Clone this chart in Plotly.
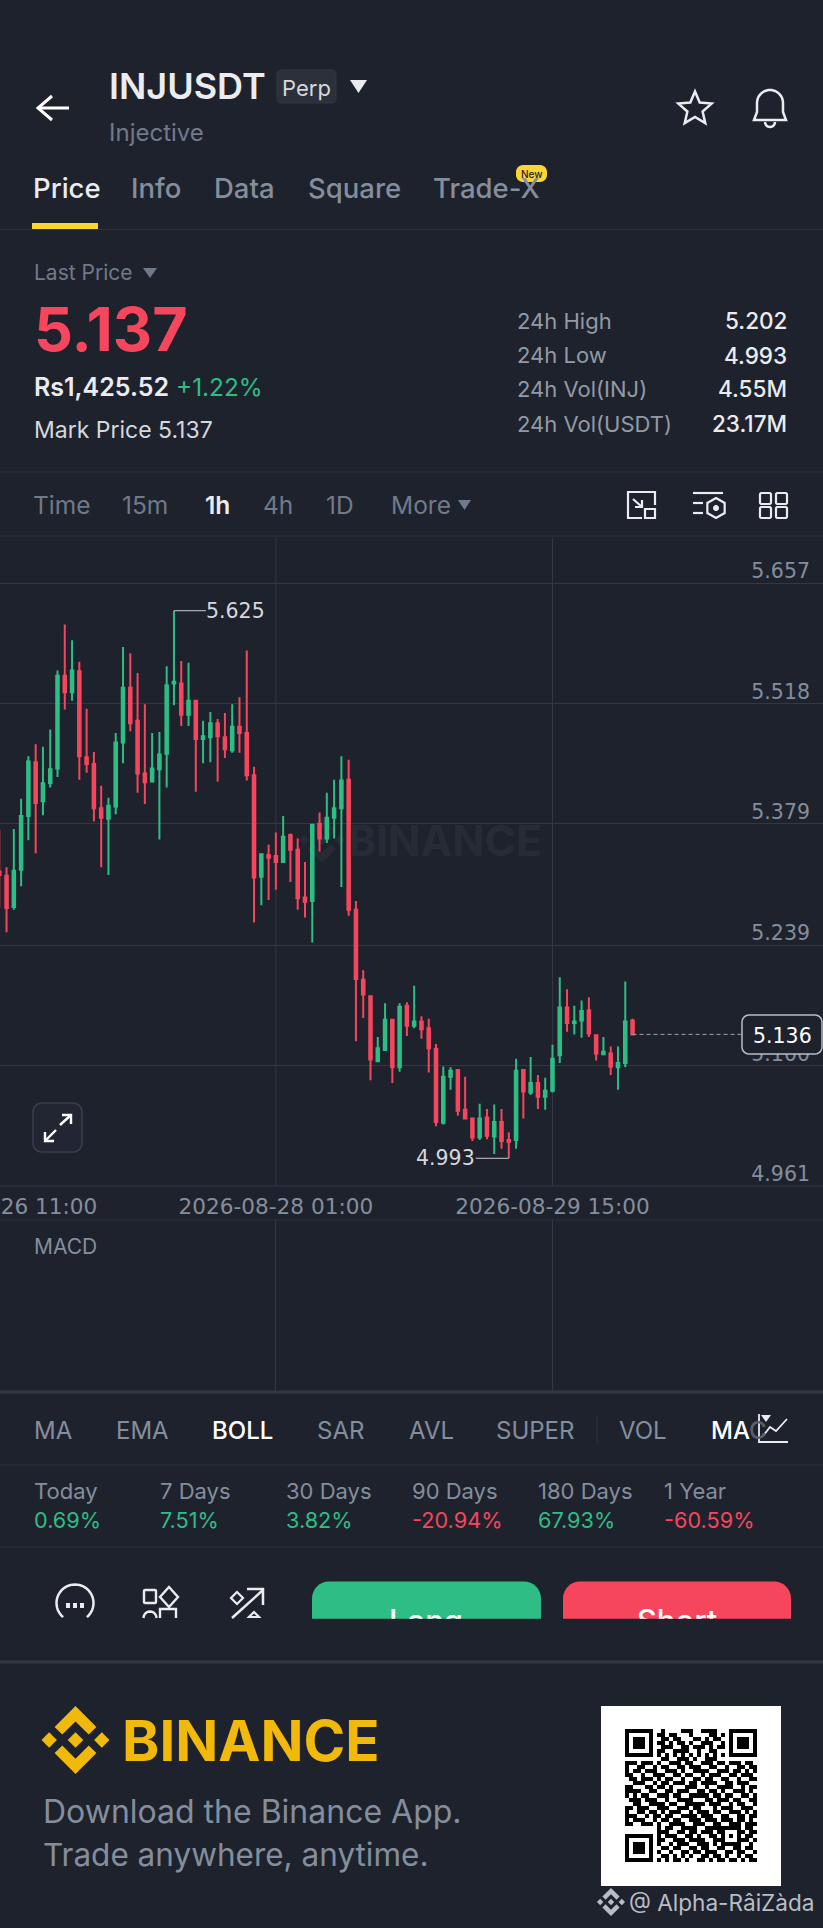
import math
import pandas as pd
import plotly.graph_objects as go

W, H = 823, 1928
BG = "#1e222d"
LINE = "#2c313c"
GRID = "#343844"
GREEN = "#2ebd85"
RED = "#f6465d"
GREY = "#848e9c"
FONT = "Inter"
CHART_FONT = "DejaVu Sans"

# ---------- chart data ----------
start_time = "2026-08-26 11:00"
opens = [5.324,5.319,5.283,5.326,5.388,5.450,5.405,5.426,5.443,5.550,5.531,5.555,5.456,5.448,5.397,5.385,5.399,5.473,5.536,5.498,5.437,5.428,5.442,5.460,5.541,5.541,5.505,5.521,5.477,5.479,5.495,5.479,5.464,5.491,5.484,5.435,5.318,5.343,5.342,5.335,5.366,5.349,5.294,5.290,5.379,5.362,5.386,5.397,5.430,5.280,5.199,5.180,5.105,5.118,5.153,5.098,5.169,5.146,5.151,5.143,5.119,5.034,5.087,5.095,5.049,5.039,5.017,5.040,5.018,5.035,5.014,5.014,5.095,5.069,5.080,5.064,5.071,5.112,5.167,5.149,5.152,5.164,5.135,5.113,5.114,5.098,5.103,5.152]
highs = [5.372,5.329,5.373,5.408,5.457,5.471,5.468,5.488,5.556,5.609,5.591,5.566,5.512,5.462,5.423,5.409,5.484,5.583,5.576,5.553,5.517,5.484,5.485,5.561,5.625,5.567,5.565,5.522,5.498,5.508,5.500,5.507,5.517,5.525,5.579,5.445,5.344,5.355,5.369,5.388,5.368,5.362,5.335,5.378,5.392,5.415,5.430,5.457,5.453,5.290,5.210,5.180,5.133,5.172,5.154,5.172,5.173,5.192,5.157,5.154,5.125,5.099,5.098,5.096,5.087,5.040,5.056,5.050,5.055,5.050,5.023,5.108,5.096,5.110,5.089,5.086,5.124,5.202,5.188,5.169,5.175,5.179,5.136,5.133,5.122,5.122,5.197,5.154]
lows = [5.282,5.254,5.280,5.307,5.360,5.345,5.389,5.421,5.433,5.511,5.521,5.430,5.438,5.382,5.329,5.320,5.390,5.449,5.486,5.415,5.402,5.428,5.361,5.421,5.516,5.492,5.492,5.416,5.449,5.450,5.428,5.455,5.461,5.461,5.429,5.265,5.285,5.291,5.303,5.335,5.312,5.280,5.271,5.242,5.347,5.357,5.362,5.306,5.273,5.128,5.155,5.083,5.104,5.117,5.080,5.093,5.134,5.143,5.131,5.092,5.030,5.032,5.072,5.042,5.038,5.013,5.014,5.015,4.998,5.004,4.993,5.004,5.039,5.066,5.050,5.049,5.069,5.103,5.139,5.136,5.132,5.133,5.106,5.112,5.089,5.072,5.098,5.136]
closes = [5.320,5.282,5.325,5.388,5.451,5.403,5.426,5.442,5.550,5.531,5.556,5.457,5.448,5.397,5.386,5.400,5.473,5.536,5.495,5.437,5.427,5.443,5.459,5.539,5.543,5.505,5.521,5.477,5.480,5.495,5.480,5.465,5.491,5.484,5.435,5.317,5.344,5.340,5.335,5.364,5.349,5.293,5.289,5.378,5.362,5.386,5.397,5.429,5.280,5.200,5.182,5.107,5.120,5.153,5.098,5.168,5.146,5.151,5.142,5.120,5.035,5.087,5.094,5.048,5.039,5.017,5.039,5.019,5.035,5.013,5.012,5.094,5.070,5.080,5.064,5.071,5.108,5.167,5.149,5.151,5.163,5.137,5.114,5.116,5.099,5.103,5.151,5.136]
price_ticks = [5.657, 5.518, 5.379, 5.239, 5.100, 4.961]
time_ticks = ["2026-08-26 11:00", "2026-08-28 01:00", "2026-08-29 15:00"]
peak_label, trough_label, last_label = 5.625, 4.993, 5.136

# ---------- page text ----------
tabs = ["Price", "Info", "Data", "Square", "Trade-X"]
stat_labels = ["24h High", "24h Low", "24h Vol(INJ)", "24h Vol(USDT)"]
stat_values = ["5.202", "4.993", "4.55M", "23.17M"]
intervals = ["Time", "15m", "1h", "4h", "1D", "More"]
indicators = ["MA", "EMA", "BOLL", "SAR", "AVL", "SUPER", "VOL"]
period_labels = ["Today", "7 Days", "30 Days", "90 Days", "180 Days", "1 Year"]
period_values = ["0.69%", "7.51%", "3.82%", "-20.94%", "67.93%", "-60.59%"]

# ---------- QR modules ----------
qr_rows = [
"1111111"+"0010000111001111000"+"1111111",
"1000001"+"0110110001000011010"+"1000001",
"1011101"+"0011011000110101100"+"1011101",
"1011101"+"0110101101001110010"+"1011101",
"1011101"+"0011100110111010110"+"1011101",
"1000001"+"0110011110010011000"+"1000001",
"1111111"+"0101010101010101010"+"1111111",
"00000000"+"01100111010011100"+"00000000",
"111011101001110110011101101110110",
"100110010110011011100110010011011",
"101101110011101001111001110110101",
"110010011100110110010111001101110",
"011011101011001001101100110010011",
"001110010110111011011110011011100",
"110001101101000111001001111001011",
"111100110011011100110110100111010",
"101011001110110011111011011001101",
"011101110010011110001101110110011",
"001100111101100111110111001011001",
"110111001110011101100010111001110",
"100110110101110010111011001110101",
"111001011011001111011100110011011",
"101110010110110011101110111011010",
"110011101001111001110011001110111",
"00000000"+"1011001111001111"+"11111"+"0110",
"00000000"+"1110011011011101"+"10001"+"1011",
"1111111"+"0"+"1011100110100110"+"10101"+"0110",
"1000001"+"0"+"1100111011110011"+"10001"+"1101",
"1011101"+"0"+"1001011100111010"+"11111"+"0010",
"1011101"+"0"+"0110110011011001"+"100110110",
"1011101"+"0"+"1001001101101110"+"011011001",
"1000001"+"0"+"0110101010011011"+"010010110",
"1111111"+"0"+"1010110100110101"+"101101011",
]

# ---------- helpers ----------
def px(x): return x / W
def py(y): return 1 - y / H

annotations, shapes = [], []

def T(x, y, text, size, color, anchor="left", weight=400, family=FONT):
    if anchor == "left":
        x -= 1.2
    annotations.append(dict(xref="paper", yref="paper", x=px(x), y=py(y), text=text, showarrow=False,
                            xanchor=anchor, yanchor="middle", borderpad=0,
                            font=dict(family=family, size=size, color=color, weight=weight)))

def path(pts, close=False, color=None, fill=None, width=2, layer="above"):
    d = "M" + " L".join(f"{px(a):.5f},{py(b):.5f}" for a, b in pts) + (" Z" if close else "")
    shapes.append(dict(type="path", xref="paper", yref="paper", path=d, layer=layer,
                       line=dict(color=color or "rgba(0,0,0,0)", width=width if color else 0),
                       fillcolor=fill or "rgba(0,0,0,0)"))

def hline(y, color=LINE, width=1, x0=0, x1=W):
    path([(x0, y), (x1, y)], color=color, width=width, layer="below")

def rect(x0, y0, x1, y1, fill=None, color=None, width=1, r=0, layer="above"):
    pts = []
    if r:
        for cx, cy, a0 in [(x1-r, y0+r, -90), (x1-r, y1-r, 0), (x0+r, y1-r, 90), (x0+r, y0+r, 180)]:
            for k in range(7):
                a = math.radians(a0 + 15 * k)
                pts.append((cx + r * math.cos(a), cy + r * math.sin(a)))
    else:
        pts = [(x0, y0), (x1, y0), (x1, y1), (x0, y1)]
    path(pts, True, color, fill, width, layer)

def tri(x0, x1, y0, y1, color):
    path([(x0, y0), (x1, y0), ((x0 + x1) / 2, y1)], True, fill=color, layer="below")

def arc(cx, cy, r, a0, a1, n=40):
    return [(cx + r * math.cos(math.radians(a0 + (a1 - a0) * i / n)),
             cy + r * math.sin(math.radians(a0 + (a1 - a0) * i / n))) for i in range(n + 1)]

def logo(cx, cy, size, color):
    s = size / 126.61
    polys = [
        [(38.73,53.2),(63.32,28.62),(87.92,53.22),(102.22,38.91),(63.32,0),(24.43,38.9)],
        [(0,63.31),(14.3,49),(28.61,63.31),(14.3,77.61)],
        [(38.73,73.41),(63.32,98),(87.92,73.4),(102.23,87.69),(63.33,126.6),(24.42,87.72)],
        [(98,63.31),(112.3,49),(126.61,63.3),(112.3,77.62)],
        [(77.83,63.3),(63.32,48.78),(48.81,63.28),(63.32,77.78)],
    ]
    for p in polys:
        path([(cx + (a - 63.3) * s, cy + (b - 63.3) * s) for a, b in p], True, fill=color, layer="below")

# ---------- header ----------
path([(69, 108), (38, 108)], color="white", width=3)
path([(52, 96), (38, 108), (52, 120)], color="white", width=3)
T(109.5, 86, "INJUSDT", 36, "#eaecef", weight=600)
rect(277, 70, 336, 103, fill="#2b303a", color="#343944", r=4, layer="below")
T(306.5, 88, "Perp", 22, "#d5d8dc", "center")
tri(350, 367, 80, 93, "#eaecef")
T(109.5, 133, "Injective", 24, "#707a8a")
star = [(695 + (17.5 if i % 2 == 0 else 8) * math.cos(math.radians(-90 + 36 * i)),
         109 + (17.5 if i % 2 == 0 else 8) * math.sin(math.radians(-90 + 36 * i))) for i in range(10)]
path(star, True, color="#eaecef", width=2.5)
bell = arc(770, 103, 13, 180, 360, 24)
path([(754, 120)] + [(757, 112)] + bell + [(783, 112), (786, 120)], True, color="#eaecef", width=2.5)
path(arc(770, 122, 5, 0, 180, 12), color="#eaecef", width=2.5)

tab_x = [33, 131, 214, 308, 433]
for i, (x, t) in enumerate(zip(tab_x, tabs)):
    T(x, 188, t, 27.5, "#eaecef" if i == 0 else "#848e9c", weight=500)
rect(516, 165, 547, 182, fill="#fcd535", r=7)
T(531.5, 173.5, "New", 10, "#1e2329", "center", 500)
rect(32, 223, 98, 229, fill="#fcd535", layer="below")
hline(229.5)

T(34, 273, "Last Price", 21, "#707a8a")
tri(143, 157, 268, 278, "#707a8a")
T(34, 329, "5.137", 61, RED, weight=700)
T(34, 387, "Rs1,425.52", 25, "#eaecef", weight=600)
T(176, 387, "+1.22%", 24.4, GREEN)
T(34, 430, "Mark Price 5.137", 23, "#d5d8dc")
for y, a, b in zip([321, 355, 389, 423.5], stat_labels, stat_values):
    T(517, y, a, 22, "#929aa5")
    T(788, y, b, 22.5, "#eaecef", "right", 500)
hline(472)

for x, t in zip([33, 122, 205, 263.5, 326.5, 391], intervals):
    T(x, 505.5, t, 24.5, "#eaecef" if t == "1h" else "#707a8a", weight=600 if t == "1h" else 400)
tri(458, 471, 500, 510, "#707a8a")
# interval toolbar icons
path([(642, 518), (628, 518), (628, 492), (655, 492), (655, 505)], color="#eaecef", width=2.2)
rect(645, 509, 655, 518, color="#eaecef", width=2.2)
path([(633, 499), (642, 507)], color="#eaecef", width=2.2)
path([(642, 500), (642, 507), (635, 507)], color="#eaecef", width=2.2)
path([(693, 493), (723, 493)], color="#eaecef", width=2.2)
path([(693, 503), (703, 503)], color="#eaecef", width=2.2)
path([(693, 513), (703, 513)], color="#eaecef", width=2.2)
hexa = [(716 + 10 * math.cos(math.radians(-90 + 60 * i)), 508 + 10 * math.sin(math.radians(-90 + 60 * i))) for i in range(6)]
path(hexa, True, color="#eaecef", width=2.2)
rect(713, 505, 719, 511, fill="#eaecef", r=3)
for xa, xb in [(760, 771), (776, 787)]:
    for ya, yb in [(493, 504), (507, 518)]:
        rect(xa, ya, xb, yb, color="#eaecef", width=2.2, r=1.5)
hline(536)

# ---------- chart overlays ----------
hline(1186, GRID)
hline(1220, LINE)
# watermark
logo(322, 840, 46, "#272b36")
annotations.append(dict(xref="paper", yref="paper", x=px(347), y=py(840), text="BINANCE", showarrow=False,
                        xanchor="left", yanchor="middle", borderpad=0,
                        font=dict(family=FONT, size=42.5, color="#272b36", weight=700)))
# expand button
rect(33, 1103, 82, 1152, fill="#222632", color="#3a3f4b", width=1.5, r=9)
path([(60, 1125), (71, 1115)], color="white", width=2.4)
path([(62, 1115), (71, 1115), (71, 1124)], color="white", width=2.4)
path([(56, 1130), (45, 1141)], color="white", width=2.4)
path([(45, 1132), (45, 1141), (54, 1141)], color="white", width=2.4)
# last price box
rect(742, 1015, 822, 1054, fill=BG, color="#b7bdc6", width=1.5, r=7)
T(782, 1036, f"{last_label:.3f}", 20.5, "white", "center", 500, CHART_FONT)
T(34, 1246, "MACD", 21, GREY)

# ---------- indicators / periods ----------
hline(1392, GRID, 3)
for x, t in zip([34.5, 116.5, 212.5, 317.5, 409, 496, 619], indicators):
    T(x, 1430, t, 24, "white" if t == "BOLL" else "#848e9c", weight=500 if t == "BOLL" else 400)
path([(597, 1416), (597, 1444)], color=LINE, width=1, layer="below")
T(711, 1430, 'MA<span style="color:#5b606a">C</span>', 24, "white", weight=500)
path([(759, 1414), (759, 1442), (788, 1442)], color="#eaecef", width=1.8)
path([(763, 1436), (770, 1427), (776, 1431), (787, 1419)], color="#eaecef", width=1.8)
tri(761, 771, 1415, 1422, "#eaecef")
hline(1465)
for x, a, b in zip([34.5, 160.5, 286, 412, 538.5, 664], period_labels, period_values):
    T(x, 1490.5, a, 22, "#848e9c")
    T(x, 1519.5, b, 21.7, RED if b.startswith("-") else GREEN)
hline(1547)

# ---------- action bar ----------
path(arc(75, 1603, 18.5, 130, 410, 40), color="#eaecef", width=2.5)
for x in (68, 75, 82):
    rect(x - 2, 1603, x + 2, 1608, fill="#eaecef")
rect(144, 1590, 156, 1603, color="#eaecef", width=2.4, r=1)
path([(169, 1587), (178, 1597), (169, 1607), (160, 1597)], True, color="#eaecef", width=2.4)
path(arc(150, 1618, 6.5, 180, 360, 12), color="#eaecef", width=2.4)
path([(160, 1618), (160, 1609), (176, 1609), (176, 1618)], color="#eaecef", width=2.4)
path([(232, 1618), (263, 1590)], color="#eaecef", width=2.5)
path([(247, 1589), (263, 1589), (263, 1605)], color="#eaecef", width=2.5)
path([(237, 1592), (243, 1598), (237, 1604), (231, 1598)], True, color="#eaecef", width=2.2)
path([(254, 1612), (259, 1617), (249, 1617)], True, color="#eaecef", width=2.2)

def top_button(x0, x1, color):
    r = 17
    pts = [(x0, 1618.7)] + arc(x0 + r, 1581.5 + r, r, 180, 270, 8) + arc(x1 - r, 1581.5 + r, r, 270, 360, 8) + [(x1, 1618.7)]
    path(pts, True, fill=color, layer="below")
top_button(312, 541, GREEN)
top_button(563, 791, RED)
hline(1662, GRID, 3)

# ---------- footer ----------
logo(75.5, 1740, 68, "#f0b90b")
T(122.5, 1740, "BINANCE", 56.5, "#f0b90b", weight=700)
T(43, 1811, "Download the Binance App.", 32, "#848e9c")
T(43, 1854, "Trade anywhere, anytime.", 31.5, "#848e9c")
rect(601, 1706, 781, 1886, fill="white", layer="below")
logo(611, 1902, 28, "#b7bdc6")
T(629.5, 1902, "@ Alpha-RâiZàda", 22.6, "#b7bdc6")

# ---------- figure ----------
hour_px = 7.279
times = pd.date_range(start_time, periods=len(opens), freq="h")
t0 = pd.Timestamp(start_time)
x_start = t0 + pd.Timedelta(minutes=6)
x_end = x_start + pd.Timedelta(hours=W / hour_px)
y_per_px = (price_ticks[0] - price_ticks[-1]) / (1186 - 583)
y_top = price_ticks[0] + (583 - 538) * y_per_px

fig = go.Figure()
fig.add_trace(go.Candlestick(
    x=times, open=opens, high=highs, low=lows, close=closes,
    increasing=dict(line=dict(color=GREEN, width=2), fillcolor=GREEN),
    decreasing=dict(line=dict(color=RED, width=2), fillcolor=RED),
    hoverinfo="skip", showlegend=False))
fig.add_trace(go.Scatter(
    x=[times[-1], x_start + pd.Timedelta(hours=742 / hour_px)], y=[last_label, last_label],
    mode="lines", line=dict(color="#9aa0aa", width=1, dash="4px,3px"), hoverinfo="skip", showlegend=False))
# MACD panel (empty)
fig.add_trace(go.Scatter(x=[], y=[], xaxis="x2", yaxis="y2", showlegend=False))
# clipped button captions
fig.add_trace(go.Scatter(x=[426, 677], y=[1624, 1624], text=["Long", "Short"], mode="text",
                         textposition="middle center", cliponaxis=True,
                         textfont=dict(family=FONT, size=31, color="white", weight=500),
                         xaxis="x3", yaxis="y3", hoverinfo="skip", showlegend=False))
# QR code
fig.add_trace(go.Heatmap(z=[[int(c) for c in r[:33].ljust(33, "0")] for r in qr_rows],
                         colorscale=[[0, "white"], [1, "black"]], showscale=False, xgap=0, ygap=0,
                         xaxis="x4", yaxis="y4", hoverinfo="skip", zmin=0, zmax=1))

for val, series, dx in [(peak_label, highs, 62), (trough_label, lows, -63)]:
    annotations.append(dict(x=times[series.index(val)], y=val, xref="x", yref="y", text=f"{val:.3f}",
                            showarrow=True, ax=dx, ay=0, arrowhead=0, arrowwidth=1, arrowcolor="#c8ccd2",
                            standoff=0, startstandoff=0, borderpad=0,
                            font=dict(family=CHART_FONT, size=20.5, color="#d5d8dc")))

hidden = dict(visible=False, showgrid=False, zeroline=False, fixedrange=True, automargin=False)
fig.update_layout(
    template="none",
    width=W, height=H, margin=dict(l=0, r=0, t=0, b=0, pad=0), autosize=False,
    paper_bgcolor=BG, plot_bgcolor="rgba(0,0,0,0)", boxgap=0.5, showlegend=False,
    shapes=shapes, annotations=annotations,
    xaxis=dict(type="date", range=[x_start, x_end], domain=[0, 1], anchor="y", automargin=False,
               tickmode="array", tickvals=[x_start] + time_ticks[1:], ticktext=time_ticks,
               tickangle=0, ticks="outside", ticklen=1, tickcolor="rgba(0,0,0,0)",
               ticklabeloverflow="allow", tickfont=dict(family=CHART_FONT, size=21.6, color=GREY),
               showgrid=False, zeroline=False, rangeslider=dict(visible=False),
               showline=False, fixedrange=True),
    yaxis=dict(range=[price_ticks[-1], y_top], domain=[py(1186), py(538)], anchor="x", side="right", automargin=False,
               tickmode="array", tickvals=price_ticks, ticktext=[f"{v:.3f}" for v in price_ticks],
               ticklabelposition="inside", ticklabelshift=-12, ticklabelstandoff=10, ticks="",
               tickfont=dict(family=CHART_FONT, size=20.5, color=GREY), ticklabeloverflow="allow",
               showgrid=True, gridcolor=GRID, gridwidth=1, zeroline=False, fixedrange=True),
    xaxis2=dict(type="date", range=[x_start, x_end], domain=[0, 1], anchor="y2", tickmode="array", automargin=False,
                tickvals=time_ticks[1:], showticklabels=False, ticks="", showgrid=True, gridcolor=GRID,
                zeroline=False, fixedrange=True),
    yaxis2=dict(range=[0, 1], domain=[py(1392), py(1220)], anchor="x2", showgrid=False, showticklabels=False,
                ticks="", zeroline=False, fixedrange=True, automargin=False),
    xaxis3=dict(hidden, range=[0, W], domain=[0, 1], anchor="y3"),
    yaxis3=dict(hidden, range=[1618.7, 1575], domain=[py(1618.7), py(1575)], anchor="x3"),
    xaxis4=dict(hidden, range=[-0.5, 32.5], domain=[px(625), px(757)], anchor="y4"),
    yaxis4=dict(hidden, range=[32.5, -0.5], domain=[py(1862), py(1729)], anchor="x4"),
)
# vertical time grid in the price panel, reaching the panel top
for t in time_ticks[1:]:
    fig.add_shape(type="line", xref="x", yref="paper", x0=t, x1=t, y0=py(1186), y1=py(538),
                  line=dict(color=GRID, width=1), layer="below")

fig.write_html("out.html", config={"displayModeBar": False},
               post_script=f"document.body.style.margin='0';document.body.style.background='{BG}';")
